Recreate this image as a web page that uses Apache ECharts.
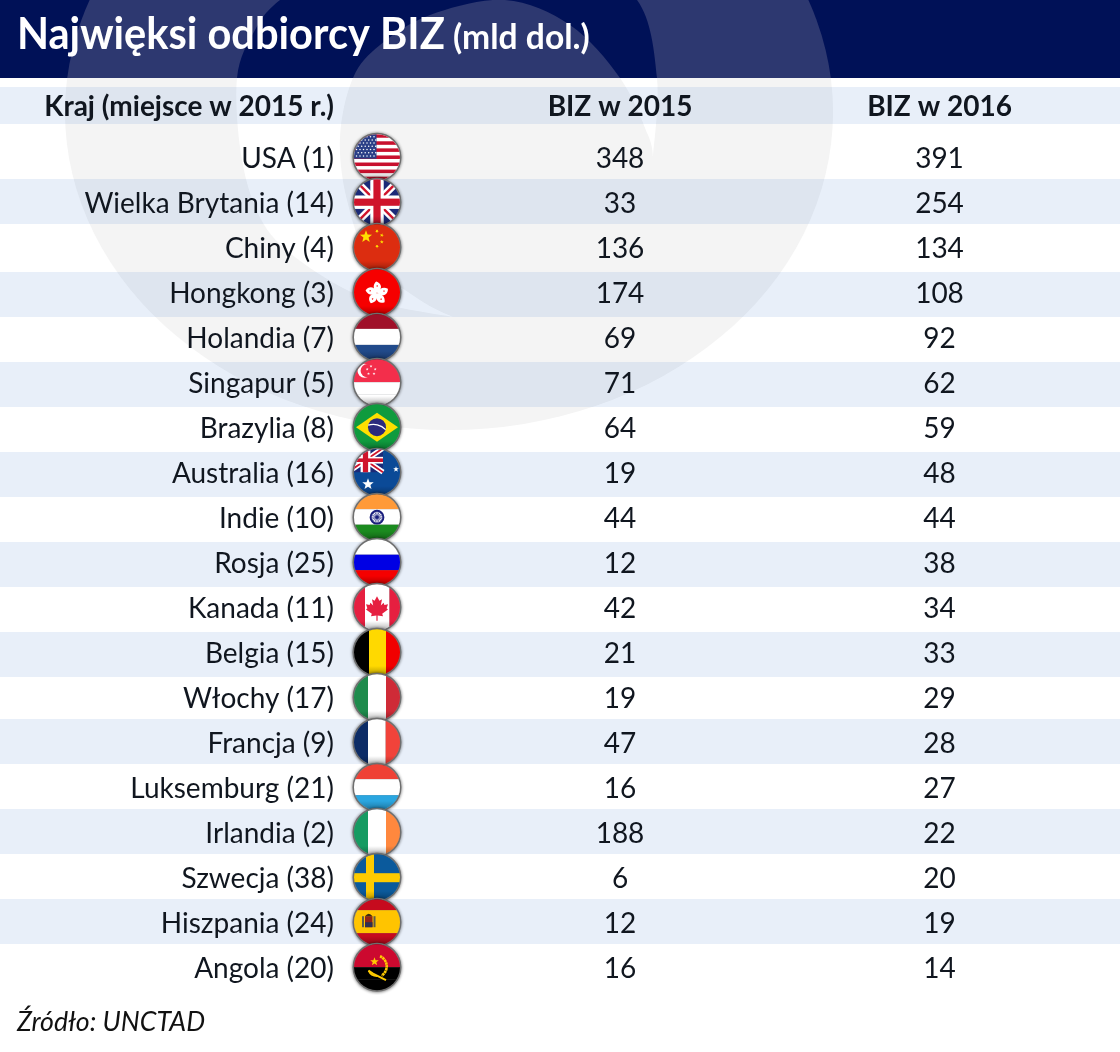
<!DOCTYPE html>
<html>
<head>
<meta charset="utf-8">
<title>Najwięksi odbiorcy BIZ</title>
<script src="https://cdn.jsdelivr.net/npm/echarts@6/dist/echarts.min.js"></script>
<style>
    html, body { margin: 0; padding: 0; background: #fff; }
    #chart { width: 1120px; height: 1052px; }
</style>
</head>
<body>
<div id="chart"></div>
<script>
var countries = ["USA", "Wielka Brytania", "Chiny", "Hongkong", "Holandia", "Singapur", "Brazylia",
    "Australia", "Indie", "Rosja", "Kanada", "Belgia", "Włochy", "Francja", "Luksemburg", "Irlandia",
    "Szwecja", "Hiszpania", "Angola"];
var ranks2015 = [1, 14, 4, 3, 7, 5, 8, 16, 10, 25, 11, 15, 17, 9, 21, 2, 38, 24, 20];
var biz2015 = [348, 33, 136, 174, 69, 71, 64, 19, 44, 12, 42, 21, 19, 47, 16, 188, 6, 12, 16];
var biz2016 = [391, 254, 134, 108, 92, 62, 59, 48, 44, 38, 34, 33, 29, 28, 27, 22, 20, 19, 14];
var headers = ["Kraj (miejsce w 2015 r.)", "BIZ w 2015", "BIZ w 2016"];

// column positions on the hidden x axis
var nameX = 334, flagX = 377, col2015X = 620, col2016X = 939.5;
var stripe = "rgba(0,80,190,0.09)";
var ink = "#10161f";

function rect(x, y, w, h, fill)
{
    return '<rect x="' + x + '" y="' + y + '" width="' + w + '" height="' + h + '" fill="' + fill + '"/>';
}

function star(cx, cy, r, fill, rot)
{
    var pts = [];
    for (var i = 0; i < 10; i++)
    {
        var a = (rot || 0) - Math.PI / 2 + i * Math.PI / 5;
        var rr = i % 2 ? r * 0.42 : r;
        pts.push((cx + rr * Math.cos(a)).toFixed(2) + "," + (cy + rr * Math.sin(a)).toFixed(2));
    }
    return '<polygon points="' + pts.join(" ") + '" fill="' + fill + '"/>';
}

function vbars(a, b, c, x1, x2)
{
    return rect(-24, -24, x1 + 24, 48, a) + rect(x1, -24, x2 - x1, 48, b) + rect(x2, -24, 24 - x2, 48, c);
}

function hbars(a, b, c, y1, y2)
{
    return rect(-24, -24, 48, y1 + 24, a) + rect(-24, y1, 48, y2 - y1, b) + rect(-24, y2, 48, 24 - y2, c);
}

function usaFlag()
{
    var s = rect(-24, -24, 48, 48, "#fff");
    for (var i = 0; i < 7; i++)
        s += rect(-24, -23 + i * 7.08, 48, 3.54, "#c8102e");
    s += rect(-24, -24, 23.5, 25.5, "#2b3f87");
    for (var r = 0; r < 7; r++)
        for (var c = 0; c < 6; c++)
            s += '<circle cx="' + (-20.5 + c * 3.5 + (r % 2) * 1.7) + '" cy="' + (-20.5 + r * 3.2) + '" r="0.75" fill="#fff"/>';
    return s;
}

function unionJack(w, h)
{
    // drawn in a box from the top left corner
    var s = rect(0, 0, w, h, "#1b2a78");
    s += '<path d="M0 0L' + w + ' ' + h + 'M' + w + ' 0L0 ' + h + '" stroke="#fff" stroke-width="' + w * 0.15 + '"/>';
    s += '<path d="M0 0L' + w + ' ' + h + 'M' + w + ' 0L0 ' + h + '" stroke="#cf142b" stroke-width="' + w * 0.05 + '"/>';
    s += rect(w * 0.36, 0, w * 0.28, h, "#fff") + rect(0, h * 0.36, w, h * 0.28, "#fff");
    s += rect(w * 0.425, 0, w * 0.15, h, "#cf142b") + rect(0, h * 0.425, w, h * 0.15, "#cf142b");
    return s;
}

function ukFlag()
{
    return '<g transform="translate(-24,-24)">' + unionJack(48, 48) + '</g>';
}

function chinaFlag()
{
    return rect(-24, -24, 48, 48, "#dc2d10") + star(-11, -10.5, 6.4, "#ffde00") +
        star(0, -16, 2, "#ffde00", 0.6) + star(4.8, -12, 2, "#ffde00", 0.3) +
        star(4.8, -5.2, 2, "#ffde00") + star(0, -0.8, 2, "#ffde00", 0.6);
}

function hongkongFlag()
{
    var s = rect(-24, -24, 48, 48, "#f60000");
    for (var i = 0; i < 5; i++)
    {
        s += '<g transform="translate(0,1) rotate(' + (i * 72 + 8) + ')">' +
            '<path d="M0 0C-4.5 -3 -5.5 -7.5 -2.5 -11.5C1.5 -11 3.8 -8 3 -5C2.5 -3 1 -1.5 0 0Z" fill="#fff"/>' +
            star(-0.8, -7.2, 1.1, "#f60000") + '</g>';
    }
    return s;
}

function singaporeFlag()
{
    var s = hbars("#f32e4b", "#fff", "#fff", 0, 12);
    s += '<circle cx="-12.5" cy="-11.5" r="7" fill="#fff"/><circle cx="-9.8" cy="-11.5" r="6.6" fill="#f32e4b"/>';
    s += star(-6, -16, 1.5, "#fff") + star(-1.8, -13, 1.5, "#fff") + star(-3, -8.5, 1.5, "#fff") +
        star(-8.5, -8.5, 1.5, "#fff") + star(-9.8, -13, 1.5, "#fff");
    return s;
}

function brazilFlag()
{
    return rect(-24, -24, 48, 48, "#0f9b3e") +
        '<polygon points="-21,0 0,-14.5 21,0 0,14.5" fill="#fedf00"/>' +
        '<circle r="9" fill="#2b2a7d"/>' +
        '<path d="M-8.8 -2C-3 -4 4 -2.5 8.6 2.4" stroke="#fff" stroke-width="1.3" fill="none"/>';
}

function australiaFlag()
{
    return rect(-24, -24, 48, 48, "#0b4a97") +
        '<g transform="translate(-29,-24)">' + unionJack(35, 24) + '</g>' +
        star(-9, 12, 6, "#fff") + star(19, -3, 3, "#fff");
}

function indiaFlag()
{
    var s = hbars("#ff9a38", "#fff", "#1b8b1f", -8, 7.5);
    s += '<circle r="6.4" fill="none" stroke="#1b1f7d" stroke-width="2"/><circle r="1.6" fill="#1b1f7d"/>';
    for (var i = 0; i < 8; i++)
        s += '<path transform="rotate(' + i * 22.5 + ')" d="M0 -6V6" stroke="#1b1f7d" stroke-width="0.6"/>';
    return s;
}

function canadaFlag()
{
    var leaf = "M0 -12L-2.4 -7.5L-5 -9L-3.8 -2.6L-6.6 -5.4L-7.4 -3.2L-11 -4L-9.6 0L-11 1.2L-5.2 5.6L-6 8L-0.6 7.2L-0.6 12.5" +
        "L0.6 12.5L0.6 7.2L6 8L5.2 5.6L11 1.2L9.6 0L11 -4L7.4 -3.2L6.6 -5.4L3.8 -2.6L5 -9L2.4 -7.5Z";
    return vbars("#e61f40", "#fff", "#e61f40", -12, 12.5) + '<path d="' + leaf + '" fill="#e61f40" transform="translate(0,1)"/>';
}

function swedenFlag()
{
    return rect(-24, -24, 48, 48, "#0b5a9c") + rect(-11, -24, 8, 48, "#fecb00") + rect(-24, -4, 48, 9, "#fecb00");
}

function spainFlag()
{
    return hbars("#c60b1e", "#ffc400", "#c60b1e", -12, 11) +
        rect(-15, -6, 2, 11, "#5c5c4a") + rect(-3.5, -6, 2, 11, "#5c5c4a") +
        rect(-12, -6, 7.5, 11, "#8f2418") + '<path d="M-12 -6Q-8.2 -11 -4.5 -6Z" fill="#3a2a14"/>' +
        rect(-12, 0, 7.5, 5, "#30304f");
}

function angolaFlag()
{
    return hbars("#cc092f", "#000", "#000", 0, 12) +
        '<path d="M3 -11A11 11 0 0 1 4.5 8.5" fill="none" stroke="#ffcb00" stroke-width="2.6" stroke-dasharray="2.4 0.5"/>' +
        '<path d="M-8.5 3.5L-4 6.5L9 13" fill="none" stroke="#ffcb00" stroke-width="2"/>' +
        '<path d="M-8.5 3.5Q-6 9 0 9" fill="none" stroke="#ffcb00" stroke-width="1.6"/>' +
        star(-2.5, -5.5, 4.5, "#ffcb00");
}

// one painter for each row of the table, in the order of countries
var flagPainters = [
    usaFlag, ukFlag, chinaFlag, hongkongFlag,
    function () { return hbars("#a01029", "#fff", "#214a8a", -8.3, 7.7); },
    singaporeFlag, brazilFlag, australiaFlag, indiaFlag,
    function () { return hbars("#fff", "#0000e4", "#f50000", -7.5, 8); },
    canadaFlag,
    function () { return vbars("#000", "#ffd900", "#f10000", -8, 9); },
    function () { return vbars("#1e8b4c", "#fff", "#cf2b37", -9, 9); },
    function () { return vbars("#0c2c66", "#fff", "#f1433a", -9, 8.7); },
    function () { return hbars("#ef4135", "#fff", "#2aa6e0", -8, 8); },
    function () { return vbars("#169b62", "#fff", "#ff883e", -9, 9); },
    swedenFlag, spainFlag, angolaFlag
];

function flagSymbol(paint)
{
    var svg = '<svg xmlns="http://www.w3.org/2000/svg" width="168" height="168" viewBox="-28 -28 56 56">' +
        '<defs><clipPath id="c"><circle r="23"/></clipPath>' +
        '<filter id="b" x="-30%" y="-30%" width="160%" height="160%"><feGaussianBlur stdDeviation="1.4"/></filter>' +
        '<linearGradient id="g" x1="0" y1="0" x2="0" y2="1"><stop offset="0.8" stop-color="#000" stop-opacity="0"/>' +
        '<stop offset="1" stop-color="#000" stop-opacity="0.3"/></linearGradient></defs>' +
        '<circle r="24.8" cy="0.4" fill="#000" opacity="0.5" filter="url(#b)"/>' +
        '<circle r="23.7" fill="none" stroke="#6e6e6e" stroke-width="1.5"/>' +
        '<g clip-path="url(#c)">' + paint() + '<circle r="23" fill="url(#g)"/></g></svg>';
    return "image://data:image/svg+xml;charset=utf-8," + encodeURIComponent(svg);
}

function smoothLine(pts)
{
    // catmull-rom through the points, returned as svg curve commands
    var d = "";
    for (var i = 0; i < pts.length - 1; i++)
    {
        var p0 = pts[Math.max(i - 1, 0)], p1 = pts[i], p2 = pts[i + 1], p3 = pts[Math.min(i + 2, pts.length - 1)];
        d += "C" + (p1[0] + (p2[0] - p0[0]) / 6).toFixed(1) + " " + (p1[1] + (p2[1] - p0[1]) / 6).toFixed(1) + " " +
            (p2[0] - (p3[0] - p1[0]) / 6).toFixed(1) + " " + (p2[1] - (p3[1] - p1[1]) / 6).toFixed(1) + " " + p2[0] + " " + p2[1];
    }
    return d;
}

// the pale logo behind the table: a disc with a crescent cut out of it
function backgroundImage()
{
    var outer = [[453, 317], [370, 300], [303, 263], [263, 223], [242, 160], [237, 78], [255, 30], [280, 0],
        [340, -40], [460, -60], [570, -40], [637, 0], [657, 78], [653, 157]];
    var inner = [[653, 157], [648, 135], [620, 78], [570, 25], [505, 0], [430, 15], [380, 45], [353, 78],
        [340, 137], [347, 200], [370, 260], [420, 300], [453, 317]];
    var crescent = "M453 317" + smoothLine(outer) + smoothLine(inner) + "Z";
    var disc = '<ellipse cx="449" cy="112" rx="384" ry="318"';
    var svg = '<svg xmlns="http://www.w3.org/2000/svg" width="1120" height="1052" viewBox="0 0 1120 1052">' +
        '<defs><clipPath id="h"><rect width="1120" height="78"/></clipPath></defs>' +
        disc + ' fill="#f4f4f4"/><path d="' + crescent + '" fill="#fff"/>' +
        '<g clip-path="url(#h)"><rect width="1120" height="78" fill="#001157"/>' +
        disc + ' fill="#2d3870"/><path d="' + crescent + '" fill="#001157"/></g></svg>';
    return "data:image/svg+xml;charset=utf-8," + encodeURIComponent(svg);
}

function textSeries(x, values)
{
    return {
        type: "scatter",
        silent: true,
        symbolSize: 1,
        itemStyle: { color: "transparent", opacity: 1 },
        data: countries.map(function (c, i) { return [x, i, values[i]]; }),
        label: {
            show: true,
            position: "inside",
            align: "center",
            verticalAlign: "middle",
            offset: [0, 2.5],
            color: ink,
            fontFamily: "Lato",
            fontSize: 28,
            formatter: function (p) { return String(p.value[2]); }
        }
    };
}

var nameSeries = textSeries(nameX, countries.map(function (c, i) { return c + " (" + ranks2015[i] + ")"; }));
nameSeries.label.align = "right";

var flagSeries = {
    type: "scatter",
    silent: true,
    symbolSize: 56,
    symbolOffset: [0, 0.7],
    itemStyle: { opacity: 1 },
    z: 3,
    data: countries.map(function (c, i) {
        return { value: [flagX, i], symbol: flagSymbol(flagPainters[i]) };
    })
};

// every second row carries a stripe; the middle stripes sit 3px lower in the original
var stripeSeries = {
    type: "custom",
    silent: true,
    z: 1,
    clip: false,
    data: countries.map(function (c, i) { return [i, i >= 3 && i <= 11 ? 3 : 0]; })
        .filter(function (row) { return row[0] % 2 == 1; }),
    renderItem: function (params, api)
    {
        var y = api.coord([0, api.value(0)])[1];
        var h = api.size([0, 1])[1];
        return {
            type: "rect",
            shape: { x: 0, y: y - h / 2 + api.value(1), width: api.getWidth(), height: h },
            style: { fill: stripe }
        };
    },
    encode: { x: -1, y: 0 }
};

var headerStyle = { color: ink, fontFamily: "Lato", fontWeight: "bold", fontSize: 28 };

var option = {
    animation: false,
    backgroundColor: "#fff",
    title: [
        { text: headers[0], left: nameX, top: 93, padding: 0, textAlign: "right", textStyle: headerStyle },
        { text: headers[1], left: col2015X, top: 93, padding: 0, textAlign: "center", textStyle: headerStyle },
        { text: headers[2], left: col2016X, top: 93, padding: 0, textAlign: "center", textStyle: headerStyle },
        {
            text: "Źródło: UNCTAD",
            left: 17, top: 1009, padding: 0,
            textStyle: { color: "#111", fontFamily: "Lato", fontStyle: "italic", fontWeight: "normal", fontSize: 26.7 }
        }
    ],
    graphic: [
        { type: "image", z: -10, silent: true, style: { image: backgroundImage(), x: 0, y: 0, width: 1120, height: 1052 } },
        { type: "rect", z: -5, silent: true, shape: { x: 0, y: 87, width: 1120, height: 37 }, style: { fill: stripe } },
        // the heading is set tighter than plain Lato, hence the horizontal squeeze
        {
            type: "text", z: 10, silent: true, x: 17, y: 35, scaleX: 0.945,
            style: { text: "Najwięksi odbiorcy BIZ", fill: "#fff", font: "bold 44px Lato", verticalAlign: "middle" }
        },
        {
            type: "text", z: 10, silent: true, x: 453, y: 38, scaleX: 0.96,
            style: { text: "(mld dol.)", fill: "#fff", font: "bold 35px Lato", verticalAlign: "middle" }
        }
    ],
    grid: { left: 0, top: 134, width: 1120, height: 855 },
    xAxis: { type: "value", min: 0, max: 1120, show: false },
    yAxis: {
        type: "category",
        inverse: true,
        data: countries,
        axisLine: { show: false },
        axisTick: { show: false },
        axisLabel: { show: false },
        splitLine: { show: false }
    },
    series: [stripeSeries, nameSeries, flagSeries, textSeries(col2015X, biz2015), textSeries(col2016X, biz2016)]
};

var myChart = echarts.init(document.getElementById("chart"));
myChart.setOption(option);
</script>
</body>
</html>
